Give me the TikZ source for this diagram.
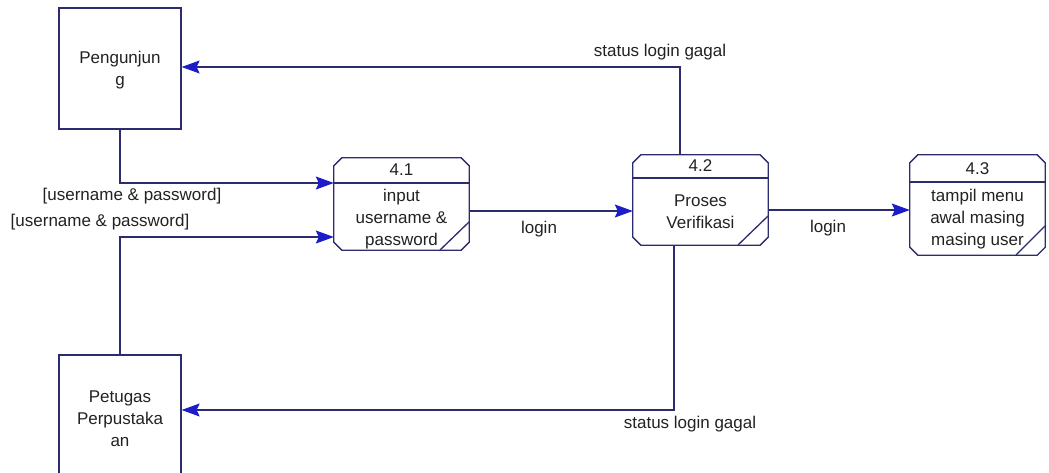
\documentclass[tikz,border=0pt]{standalone}
\usepackage{fontspec}
\setmainfont{Liberation Sans}
\usetikzlibrary{arrows.meta}
\definecolor{linecol}{HTML}{2B2B6E}
\definecolor{tipcol}{HTML}{1C1CC8}
\definecolor{txtcol}{HTML}{222222}
\tikzset{
  ent/.style={draw=linecol, line width=1.3pt, rectangle, inner sep=0pt},
  procbox/.style={draw=none, rectangle, inner sep=0pt, minimum width=135pt},
  sub/.style={draw=linecol, line width=1.3pt},
  txt/.style={text=txtcol, font=\fontsize{17}{22}\selectfont, align=center, inner sep=0pt},
  flow/.style={draw=linecol, line width=1.3pt,
    -{Stealth[length=18pt, width=13pt, inset=3pt, color=tipcol, line width=1pt]}},
}
% outline of a process box with cut corners
\newcommand\chamferbox[1]{%
  \draw[sub] ([xshift=8pt]#1.north west) -- ([xshift=-8pt]#1.north east)
    -- ([yshift=-8pt]#1.north east) -- ([yshift=8pt]#1.south east)
    -- ([xshift=-8pt]#1.south east) -- ([xshift=8pt]#1.south west)
    -- ([yshift=8pt]#1.south west) -- ([yshift=-8pt]#1.north west) -- cycle;}
\begin{document}
\begin{tikzpicture}[x=1pt, y=-1pt]
  \useasboundingbox (0,0) rectangle (1049,472);
  \fill[white] (0,0) rectangle (1049,472);
  \clip (0,0) rectangle (1049,472);

  % external entities
  \node[ent, minimum width=122pt, minimum height=121pt] (peng) at (120,68.5) {};
  \node[txt] (pengt) at (120,70) {Pengunjun\\g};
  \node[ent, minimum width=122pt, minimum height=126pt] (pet) at (120,418) {};
  \node[txt] (pett) at (120,419) {Petugas\\Perpustaka\\an};

  % processes
  \node[procbox, minimum height=92pt] (p41) at (401.5,204) {};
  \chamferbox{p41}
  \draw[sub] (p41.west |- 0,183) -- (p41.east |- 0,183);
  \draw[sub] (440,250) -- (469,222);
  \node[txt] (n41) at (401.5,170) {4.1};
  \node[txt] (t41) at (401.5,219) {input\\username \&\\password};

  \node[procbox, minimum height=90pt] (p42) at (700.5,200) {};
  \chamferbox{p42}
  \draw[sub] (p42.west |- 0,178) -- (p42.east |- 0,178);
  \draw[sub] (738,245) -- (768,216);
  \node[txt] (n42) at (700.5,166) {4.2};
  \node[txt] (t42) at (700.5,212) {Proses\\Verifikasi};

  \node[procbox, minimum height=100pt] (p43) at (977.5,205) {};
  \chamferbox{p43}
  \draw[sub] (p43.west |- 0,182) -- (p43.east |- 0,182);
  \draw[sub] (1016,255) -- (1045,226);
  \node[txt] (n43) at (977.5,169) {4.3};
  \node[txt] (t43) at (977.5,219) {tampil menu\\awal masing\\masing user};

  % data flows
  \draw[flow] (p42.north -| 680,0) |- (peng.east |- 0,67);
  \draw[flow] (peng.south) |- (p41.west |- 0,183);
  \draw[flow] (pet.north) |- (p41.west |- 0,237);
  \draw[flow] (p41.east |- 0,211) -- (p42.west |- 0,211);
  \draw[flow] (p42.east |- 0,210) -- (p43.west |- 0,210);
  \draw[flow] (p42.south -| 674,0) |- (pet.east |- 0,410);

  % flow labels
  \node[txt] (l1) at (660,52) {status login gagal};
  \node[txt] (l2) at (132,196) {[username \& password]};
  \node[txt] (l3) at (100,222) {[username \& password]};
  \node[txt] (l4) at (539,229) {login};
  \node[txt] (l5) at (828,228) {login};
  \node[txt] (l6) at (690,424) {status login gagal};
\end{tikzpicture}
\end{document}
